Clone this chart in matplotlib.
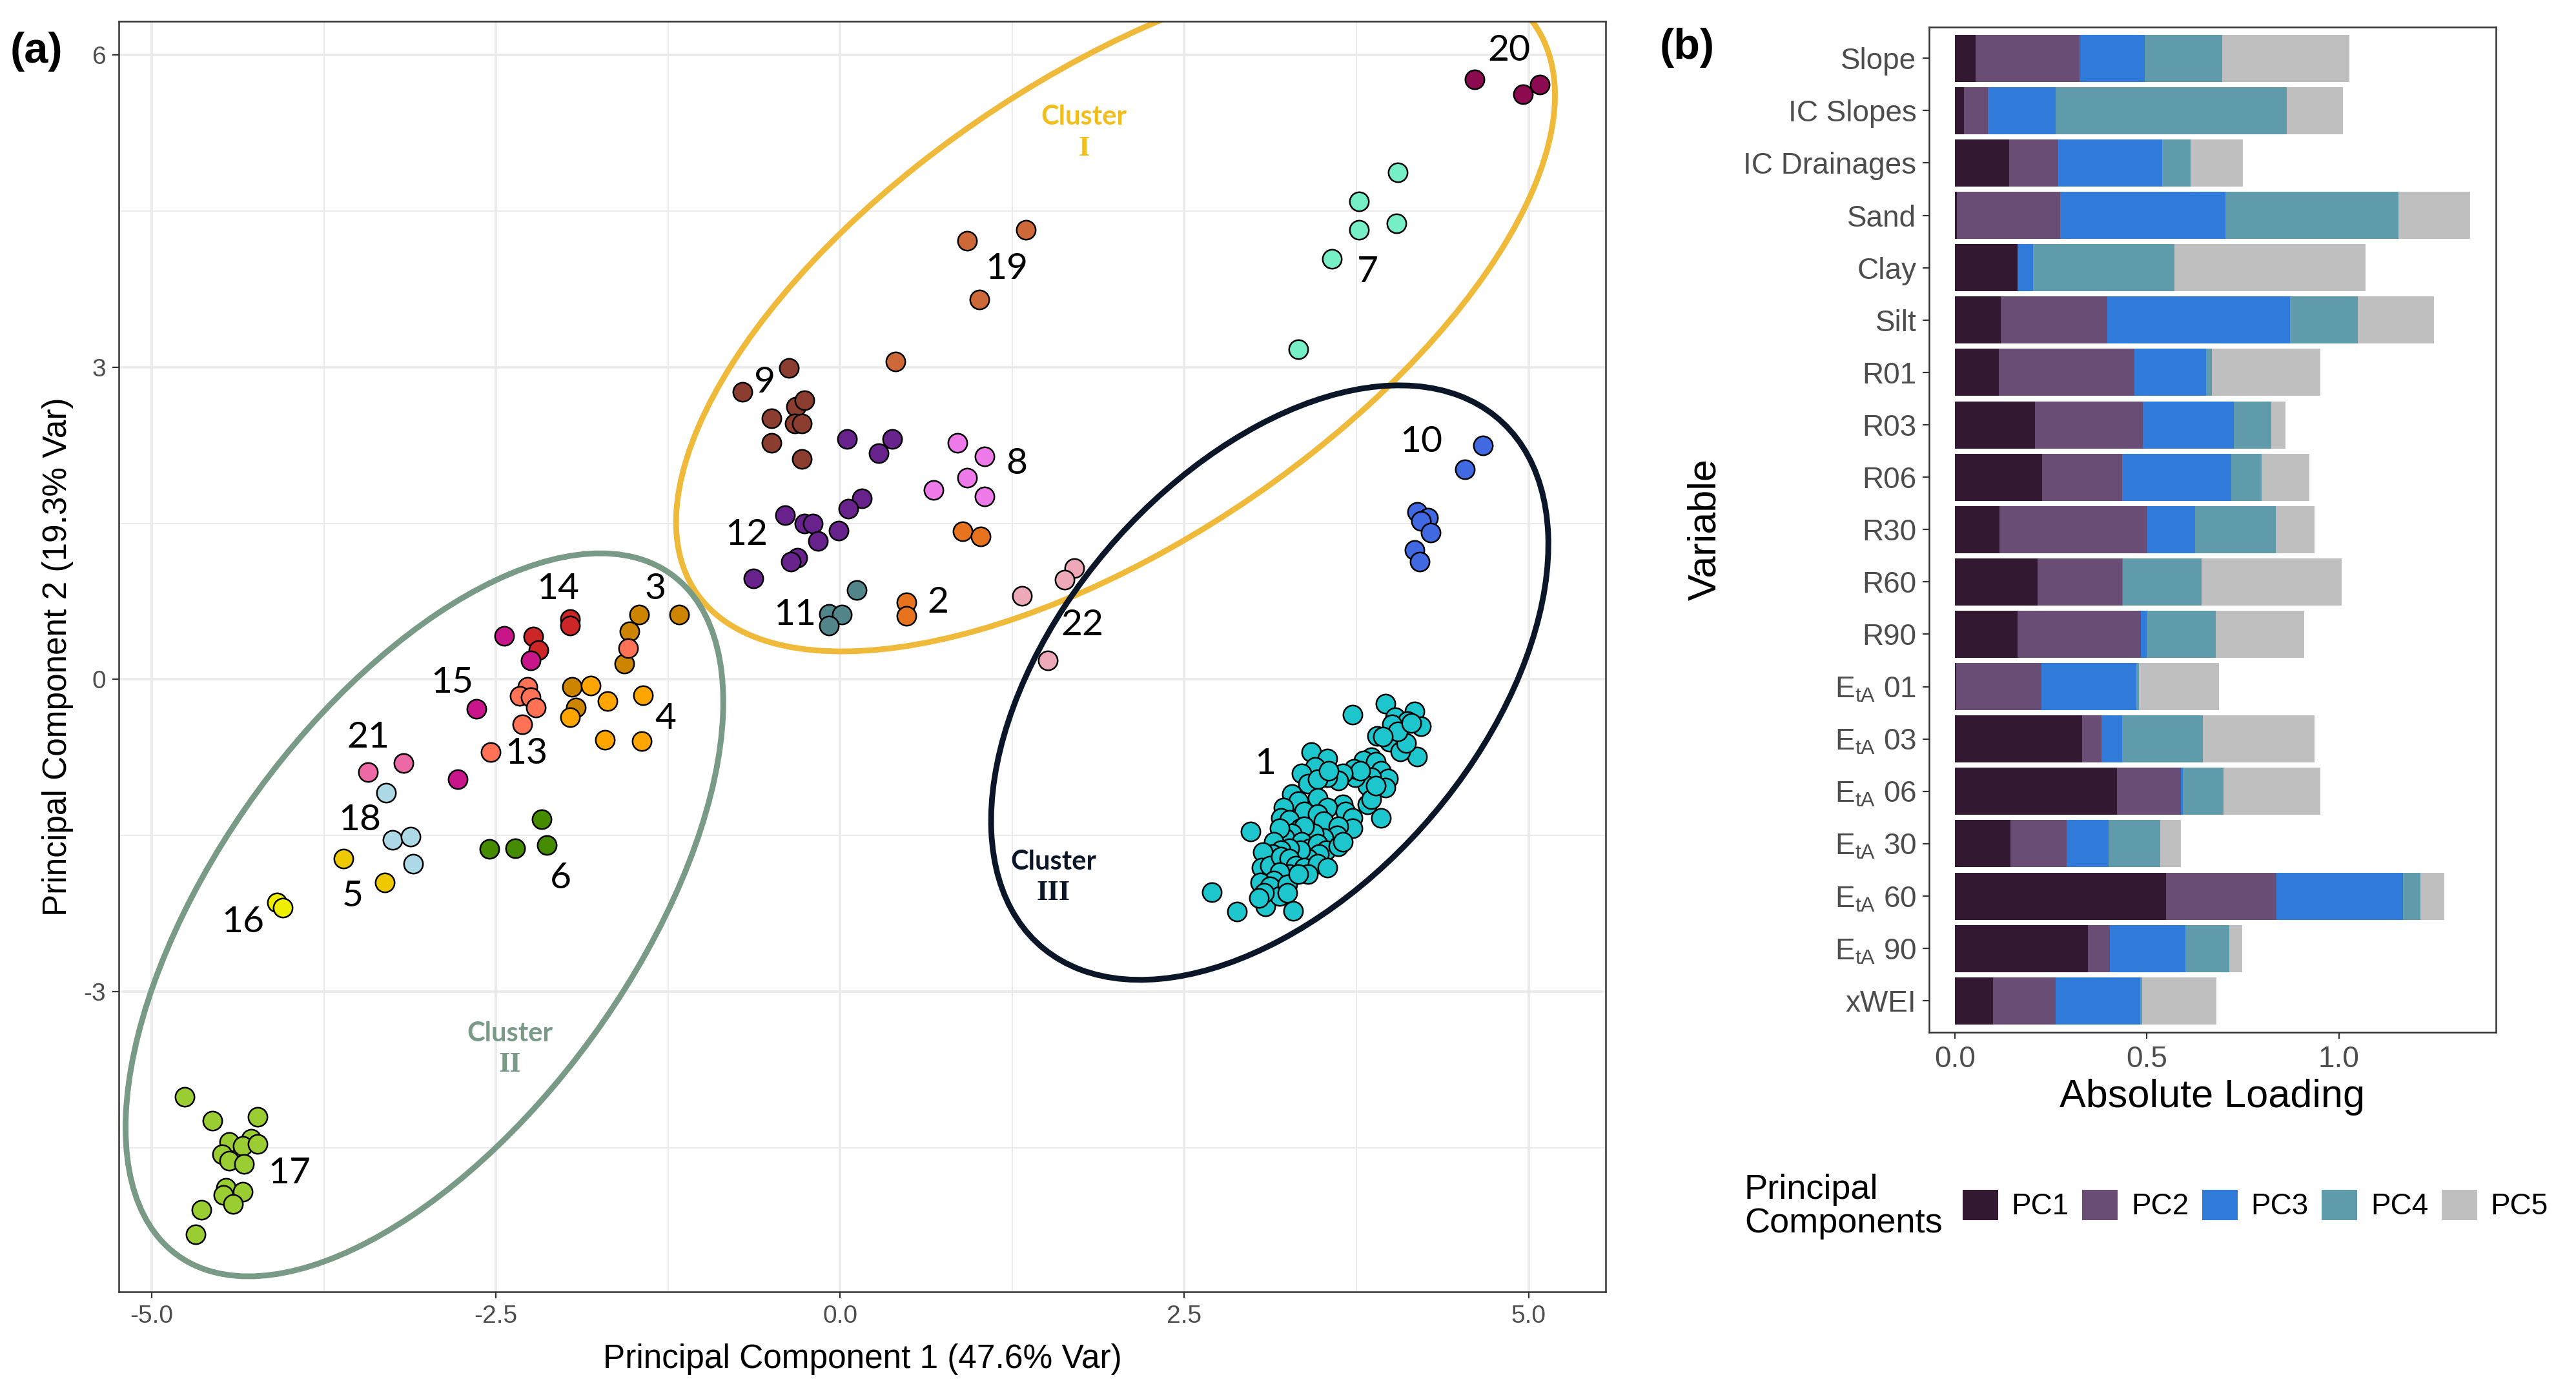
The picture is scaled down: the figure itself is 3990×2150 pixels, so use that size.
import numpy as np
import matplotlib
matplotlib.use("Agg")
import matplotlib.pyplot as plt
from matplotlib.patches import Ellipse, Patch

plt.rcParams['font.family'] = ['Liberation Sans', 'DejaVu Sans']

# ---------------- Panel (a) data: PCA scores per site group ----------------
g1_pc1 = [2.70, 2.88, 2.98, 3.72, 3.93, 3.29, 3.09, 4.19, 3.96, 4.03, 4.17, 4.12, 4.22, 4.01, 3.90,
          3.99, 4.07, 4.11, 4.05, 4.15, 3.94, 3.86, 3.80, 3.89, 3.93, 3.98, 3.96, 3.86, 3.83, 3.74,
          3.83, 3.86, 3.89, 3.73, 3.78, 3.65, 3.62, 3.54, 3.42, 3.54, 3.45, 3.35, 3.40, 3.47, 3.55,
          3.28, 3.33, 3.47, 3.65, 3.54, 3.37, 3.47, 3.22, 3.20, 3.26, 3.34, 3.51, 3.67, 3.72, 3.72,
          3.62, 3.61, 3.51, 3.44, 3.37, 3.28, 3.23, 3.19, 3.15, 3.35, 3.41, 3.47, 3.53, 3.62, 3.65,
          3.48, 3.40, 3.34, 3.26, 3.20, 3.14, 3.07, 3.06, 3.12, 3.20, 3.26, 3.31, 3.37, 3.47, 3.54,
          3.40, 3.26, 3.19, 3.15, 3.05, 3.12, 3.19, 3.25, 3.33, 3.25, 3.08, 3.04]
g1_pc2 = [-2.04, -2.23, -1.46, -0.34, -1.33, -2.22, -2.18, -0.74, -0.23, -0.36, -0.31, -0.40, -0.45, -0.43, -0.54,
          -0.60, -0.69, -0.61, -0.50, -0.42, -0.55, -0.75, -0.78, -0.79, -0.88, -0.95, -1.04, -0.94, -1.02, -0.94,
          -1.20, -1.15, -1.02, -0.86, -0.88, -0.90, -0.97, -0.94, -0.70, -0.76, -0.84, -0.90, -1.00, -0.96, -0.88,
          -1.10, -1.17, -1.14, -1.20, -1.23, -1.27, -1.29, -1.23, -1.33, -1.35, -1.43, -1.36, -1.27, -1.33, -1.43,
          -1.41, -1.50, -1.52, -1.48, -1.41, -1.48, -1.52, -1.43, -1.56, -1.56, -1.62, -1.58, -1.64, -1.60, -1.56,
          -1.68, -1.72, -1.64, -1.62, -1.64, -1.68, -1.66, -1.81, -1.79, -1.70, -1.72, -1.79, -1.81, -1.77, -1.81,
          -1.87, -1.87, -1.85, -1.93, -1.95, -1.99, -2.08, -1.97, -1.87, -2.05, -2.05, -2.10]
g2_pc1 = [0.89, 1.02, 0.48, 0.48]
g2_pc2 = [1.42, 1.37, 0.74, 0.61]
g3_pc1 = [-1.46, -1.53, -1.57, -1.17, -1.95, -1.92]
g3_pc2 = [0.62, 0.46, 0.15, 0.62, -0.07, -0.27]
g4_pc1 = [-1.81, -1.69, -1.43, -1.96, -1.71, -1.44]
g4_pc2 = [-0.06, -0.21, -0.15, -0.36, -0.58, -0.59]
g5_pc1 = [-3.61, -3.31]
g5_pc2 = [-1.72, -1.95]
g6_pc1 = [-2.17, -2.55, -2.36, -2.13]
g6_pc2 = [-1.34, -1.63, -1.62, -1.59]
g7_pc1 = [4.05, 3.77, 3.77, 4.04, 3.57, 3.33]
g7_pc2 = [4.87, 4.59, 4.32, 4.38, 4.04, 3.17]
g8_pc1 = [0.85, 1.05, 0.92, 1.05, 0.68]
g8_pc2 = [2.27, 2.14, 1.94, 1.76, 1.82]
g9_pc1 = [-0.71, -0.37, -0.50, -0.32, -0.26, -0.33, -0.28, -0.50, -0.28]
g9_pc2 = [2.76, 2.99, 2.51, 2.62, 2.68, 2.46, 2.46, 2.27, 2.12]
g10_pc1 = [4.67, 4.54, 4.19, 4.27, 4.22, 4.29, 4.17, 4.21]
g10_pc2 = [2.25, 2.02, 1.61, 1.55, 1.52, 1.41, 1.24, 1.13]
g11_pc1 = [0.12, -0.08, 0.01, -0.08]
g11_pc2 = [0.86, 0.63, 0.62, 0.52]
g12_pc1 = [0.05, 0.38, 0.28, 0.16, 0.06, -0.40, -0.26, -0.20, -0.01, -0.16, -0.31, -0.36, -0.63]
g12_pc2 = [2.31, 2.31, 2.17, 1.74, 1.64, 1.58, 1.50, 1.50, 1.43, 1.33, 1.17, 1.13, 0.97]
g13_pc1 = [-2.27, -2.33, -2.25, -2.21, -2.31, -2.54, -1.54]
g13_pc2 = [-0.07, -0.16, -0.17, -0.27, -0.43, -0.70, 0.30]
g14_pc1 = [-1.96, -1.96, -2.23, -2.19]
g14_pc2 = [0.58, 0.52, 0.41, 0.28]
g15_pc1 = [-2.44, -2.25, -2.64, -2.78]
g15_pc2 = [0.42, 0.18, -0.28, -0.96]
g16_pc1 = [-4.09, -4.05]
g16_pc2 = [-2.14, -2.19]
g17_pc1 = [-4.76, -4.56, -4.23, -4.44, -4.28, -4.34, -4.23, -4.49, -4.44, -4.33, -4.46, -4.48, -4.34, -4.41, -4.64, -4.68]
g17_pc2 = [-4.01, -4.24, -4.20, -4.44, -4.41, -4.48, -4.46, -4.56, -4.62, -4.65, -4.88, -4.95, -4.92, -5.04, -5.09, -5.33]
g18_pc1 = [-3.30, -3.25, -3.12, -3.10]
g18_pc2 = [-1.09, -1.54, -1.51, -1.77]
g19_pc1 = [1.35, 0.92, 1.01, 0.40]
g19_pc2 = [4.32, 4.21, 3.65, 3.05]
g20_pc1 = [4.61, 4.96, 5.08]
g20_pc2 = [5.76, 5.62, 5.71]
g21_pc1 = [-3.43, -3.17]
g21_pc2 = [-0.89, -0.80]
g22_pc1 = [1.70, 1.63, 1.32, 1.51]
g22_pc2 = [1.07, 0.96, 0.80, 0.18]

group_colors = ['#1DC6CC', '#E8731F', '#CD8500', '#FFA500', '#EEC900', '#458B00', '#76EEC6',
                '#EE7AE9', '#8B3E2F', '#4169E1', '#53868B', '#68228B', '#FF7256', '#CD2626',
                '#C8168A', '#EEEE00', '#9ACD32', '#ADD8E6', '#CD6839', '#8B0A50', '#EE6AA7', '#EEA9B8']

# group number labels
label_names = ['1', '2', '3', '4', '5', '6', '7', '8', '9', '10', '11',
               '12', '13', '14', '15', '16', '17', '18', '19', '20', '21', '22']
label_x = [3.09, 0.71, -1.34, -1.27, -3.54, -2.03, 3.83, 1.28, -0.55, 4.22, -0.33,
           -0.68, -2.28, -2.05, -2.82, -4.34, -4.00, -3.49, 1.21, 4.86, -3.43, 1.76]
label_y = [-0.81, 0.74, 0.87, -0.38, -2.08, -1.91, 3.91, 2.07, 2.85, 2.28, 0.62,
           1.39, -0.71, 0.87, -0.03, -2.33, -4.74, -1.35, 3.94, 6.04, -0.56, 0.52]

# cluster ellipses (centre, semi-axes, rotation in data units)
cluster_names = ['I', 'II', 'III']
cluster_cx = [2.00, -3.02, 3.12]
cluster_cy = [3.56, -2.26, -0.03]
cluster_a = [4.13, 3.76, 3.08]
cluster_b = [1.99, 1.62, 1.66]
cluster_angle = [46.4, 64.8, 63.5]
cluster_colors = ['#EFB93A', '#789A86', '#0B1628']
cluster_text_colors = ['#F2BE1E', '#789A86', '#0B1628']
cluster_text_x = [1.77, -2.40, 1.55]
cluster_text_y = [5.40, -3.40, -1.75]

# ---------------- Panel (b) data: absolute loadings ----------------
variables = ['Slope', 'IC Slopes', 'IC Drainages', 'Sand', 'Clay', 'Silt', 'R01', 'R03', 'R06',
             'R30', 'R60', 'R90', 'EtA 01', 'EtA 03', 'EtA 06', 'EtA 30', 'EtA 60', 'EtA 90', 'xWEI']
pc1 = [0.054, 0.023, 0.142, 0.006, 0.163, 0.120, 0.114, 0.208, 0.227, 0.117, 0.216, 0.163,
       0.003, 0.331, 0.422, 0.145, 0.550, 0.347, 0.099]
pc2 = [0.270, 0.063, 0.128, 0.268, 0.000, 0.277, 0.354, 0.282, 0.208, 0.385, 0.219, 0.322,
       0.222, 0.051, 0.166, 0.146, 0.287, 0.057, 0.163]
pc3 = [0.171, 0.177, 0.270, 0.430, 0.040, 0.476, 0.186, 0.237, 0.284, 0.123, 0.002, 0.015,
       0.247, 0.054, 0.006, 0.109, 0.330, 0.196, 0.220]
pc4 = [0.202, 0.602, 0.074, 0.451, 0.368, 0.176, 0.015, 0.097, 0.080, 0.210, 0.205, 0.180,
       0.008, 0.210, 0.106, 0.134, 0.045, 0.114, 0.006]
pc5 = [0.331, 0.145, 0.136, 0.186, 0.498, 0.199, 0.282, 0.037, 0.125, 0.102, 0.365, 0.230,
       0.208, 0.291, 0.251, 0.055, 0.063, 0.034, 0.193]
pc_names = ['PC1', 'PC2', 'PC3', 'PC4', 'PC5']
pc_colors = ['#331832', '#694D75', '#307BDA', '#5F9BAA', '#BFBFBF']

# ---------------- Figure ----------------
W, H = 3991, 2150
fig = plt.figure(figsize=(W / 200, H / 200), dpi=200)

axa = fig.add_axes([184 / W, 1 - 2001 / H, (2487 - 184) / W, (2001 - 33) / H])
axb = fig.add_axes([2988 / W, 1 - 1599 / H, (3866 - 2988) / W, (1599 - 41.5) / H])

# ---- Panel a ----
axa.set_xlim(-5.24, 5.56)
axa.set_ylim(-5.88, 6.32)
axa.set_xticks([-5, -2.5, 0, 2.5, 5])
axa.set_xticklabels(['-5.0', '-2.5', '0.0', '2.5', '5.0'])
axa.set_xticks([-3.75, -1.25, 1.25, 3.75], minor=True)
axa.set_yticks([-3, 0, 3, 6])
axa.set_yticklabels(['-3', '0', '3', '6'])
axa.set_yticks([-4.5, -1.5, 1.5, 4.5], minor=True)
axa.grid(which='major', color='#EBEBEB', lw=1.4)
axa.grid(which='minor', color='#EBEBEB', lw=0.7)
axa.set_axisbelow(True)
axa.tick_params(which='minor', length=0)
axa.tick_params(which='major', length=3.6, width=0.8, color='#333333',
                labelcolor='#4D4D4D', labelsize=14)
for s in axa.spines.values():
    s.set_color('#333333')
    s.set_linewidth(0.9)

groups_x = [g1_pc1, g2_pc1, g3_pc1, g4_pc1, g5_pc1, g6_pc1, g7_pc1, g8_pc1, g9_pc1, g10_pc1, g11_pc1,
            g12_pc1, g13_pc1, g14_pc1, g15_pc1, g16_pc1, g17_pc1, g18_pc1, g19_pc1, g20_pc1, g21_pc1, g22_pc1]
groups_y = [g1_pc2, g2_pc2, g3_pc2, g4_pc2, g5_pc2, g6_pc2, g7_pc2, g8_pc2, g9_pc2, g10_pc2, g11_pc2,
            g12_pc2, g13_pc2, g14_pc2, g15_pc2, g16_pc2, g17_pc2, g18_pc2, g19_pc2, g20_pc2, g21_pc2, g22_pc2]

for gx, gy, col in zip(groups_x, groups_y, group_colors):
    axa.scatter(gx, gy, s=112, c=col, edgecolors='black', linewidths=0.9, zorder=3)

for cx, cy, a, b, ang, col in zip(cluster_cx, cluster_cy, cluster_a, cluster_b, cluster_angle, cluster_colors):
    axa.add_patch(Ellipse((cx, cy), 2 * a, 2 * b, angle=ang, fill=False,
                          edgecolor=col, lw=3.2, zorder=2.5))

for name, x, y in zip(label_names, label_x, label_y):
    axa.text(x, y, name, ha='center', va='center', fontsize=20.5, family=['Lato', 'DejaVu Sans'], zorder=5)

for name, x, y, col in zip(cluster_names, cluster_text_x, cluster_text_y, cluster_text_colors):
    axa.text(x, y, 'Cluster', ha='center', va='center', fontsize=15, fontweight='bold',
             color=col, family=['Lato', 'DejaVu Sans'], zorder=5)
    axa.text(x, y - 0.30, name, ha='center', va='center', fontsize=16, fontweight='bold',
             color=col, family=['Liberation Serif', 'DejaVu Serif'], zorder=5)

axa.set_xlabel('Principal Component 1 (47.6% Var)', fontsize=18.5)
axa.set_ylabel('Principal Component 2 (19.3% Var)', fontsize=18.5)
axa.xaxis.label.set(va='center')
axa.yaxis.label.set(va='center', ha='center', rotation_mode='default')
axa.xaxis.set_label_coords(0.5, (2001 - 2105) / (2001 - 33))
axa.yaxis.set_label_coords((90 - 184) / (2487 - 184), 0.5)

# ---- Panel b ----
n = len(variables)
pos = np.arange(n, 0, -1)
left = np.zeros(n)
for vals, col, nm in zip([pc1, pc2, pc3, pc4, pc5], pc_colors, pc_names):
    axb.barh(pos, vals, left=left, height=0.9, color=col, label=nm, zorder=2)
    left = left + np.array(vals)

axb.set_xlim(-0.067, 1.409)
axb.set_ylim(0.4, n + 0.6)
axb.set_xticks([0, 0.5, 1.0])
axb.set_xticklabels(['0.0', '0.5', '1.0'])
axb.set_yticks(pos)
ylabels = []
for v in variables:
    if v.startswith('EtA'):
        ylabels.append(r'E$_{\mathregular{tA}}$' + v[3:])
    else:
        ylabels.append(v)
axb.set_yticklabels(ylabels)
axb.tick_params(length=3.6, width=0.8, color='#333333', labelcolor='#4D4D4D', labelsize=16.5)
for s in axb.spines.values():
    s.set_color('#333333')
    s.set_linewidth(0.9)

axb.set_xlabel('Absolute Loading', fontsize=22)
axb.set_ylabel('Variable', fontsize=22)
axb.xaxis.label.set(va='center')
axb.yaxis.label.set(va='center', ha='center', rotation_mode='default')
axb.xaxis.set_label_coords(0.5, (1599 - 1700) / (1599 - 41.5))
axb.yaxis.set_label_coords((2642 - 2988) / (3866 - 2988), 0.5)

# legend
handles = [Patch(facecolor=c, edgecolor='none') for c in pc_colors]
fig.legend(handles, pc_names, loc='center left', bbox_to_anchor=(3040 / W, 1 - 1867 / H),
           ncol=5, frameon=False, fontsize=16.5, handlelength=1.2, handleheight=1.2,
           handletextpad=0.45, columnspacing=0.45, borderaxespad=0, borderpad=0)
fig.text(2702 / W, 1 - 1869 / H, 'Principal\nComponents', ha='left', va='center',
         fontsize=19.5, linespacing=1.05)

# panel tags
fig.text(56 / W, 1 - 80 / H, '(a)', ha='center', va='center', fontsize=24, fontweight='bold')
fig.text(2613 / W, 1 - 74 / H, '(b)', ha='center', va='center', fontsize=24, fontweight='bold')

fig.savefig('out.png', dpi=200, facecolor='white')
